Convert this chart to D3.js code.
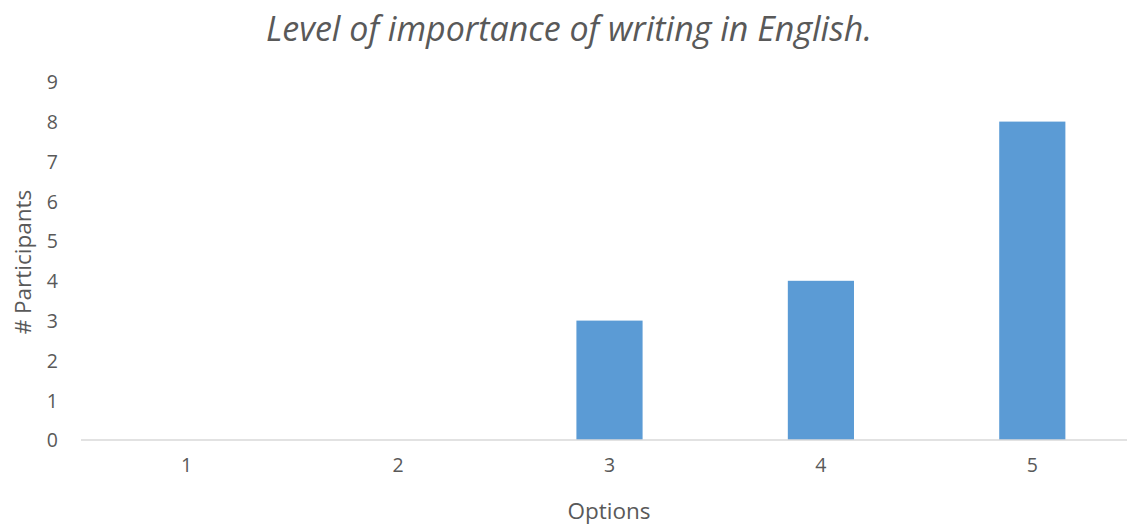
<!DOCTYPE html>
<html><head><meta charset="utf-8">
<script src="https://cdn.jsdelivr.net/npm/d3@7"></script>
<style>body{margin:0;background:#fff}svg{display:block}text{font-family:"Open Sans",sans-serif;fill:#595959}</style>
</head><body><svg id="c" width="1127" height="527"></svg>
<script>
const categories = ["1","2","3","4","5"];
const values = [0,0,3,4,8];
const yTicks = [0,1,2,3,4,5,6,7,8,9];
const title = "Level of importance of writing in English.";
const xTitle = "Options";
const yTitle = "# Participants";

const svg = d3.select("#c");
const x = d3.scaleBand().domain(categories).range([81,1138]).paddingInner(0.687).paddingOuter(0.3435);
const y = d3.scaleLinear().domain([0,9]).range([440,81.8]);

svg.append("text").attr("x",569).attr("y",41).attr("text-anchor","middle")
  .style("font-size","34px").style("font-style","italic").text(title);

const ya = svg.append("g").attr("transform","translate(58,0)")
  .call(d3.axisLeft(y).tickValues(yTicks).tickSize(0).tickPadding(0));
ya.select(".domain").remove();
ya.selectAll("text").style("font-size","19.5px").style("font-family","'Open Sans',sans-serif").attr("fill","#595959").attr("dy","0.35em");

svg.append("g").selectAll("rect").data(values).join("rect")
  .attr("x",(d,i)=>x(categories[i])).attr("width",x.bandwidth())
  .attr("y",d=>y(d)).attr("height",d=>y(0)-y(d)).attr("fill","#5b9bd5");

const xa = svg.append("g").attr("transform","translate(0,440)")
  .call(d3.axisBottom(x).tickSize(0).tickPadding(18));
xa.select(".domain").attr("stroke","#d9d9d9").attr("stroke-width",1.3).attr("d","M81,0H1127");
xa.selectAll("text").style("font-size","19.5px").style("font-family","'Open Sans',sans-serif").attr("fill","#595959");

svg.append("text").attr("x",609).attr("y",519).attr("text-anchor","middle")
  .style("font-size","22.5px").text(xTitle);
svg.append("text").attr("transform","translate(31,262) rotate(-90)").attr("text-anchor","middle")
  .style("font-size","22.5px").text(yTitle);
</script></body></html>
